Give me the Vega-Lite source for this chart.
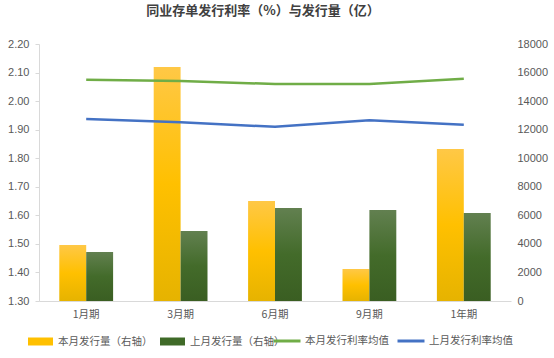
{
  "$schema": "https://vega.github.io/schema/vega-lite/v6.json",
  "width": 472,
  "height": 257,
  "autosize": {"type": "none"},
  "padding": {"left": 39, "top": 44, "right": 43, "bottom": 57},
  "background": "white",
  "config": {
    "view": {"stroke": null},
    "font": "Noto Sans CJK SC",
    "axis": {"grid": false, "labelColor": "#595959", "labelFontSize": 11, "labelFont": "Liberation Sans"},
    "legend": {"labelColor": "#595959", "labelFontSize": 10.5, "labelFont": "Noto Sans CJK SC"}
  },
  "title": {
    "text": "同业存单发行利率（%）与发行量（亿）",
    "fontSize": 13,
    "fontWeight": "bold",
    "color": "#404040",
    "anchor": "middle",
    "dx": -12,
    "offset": 20
  },
  "data": {
    "values": [
      {"period": "1月期", "kind": "bar", "series": "本月发行量（右轴）", "value": 3920},
      {"period": "3月期", "kind": "bar", "series": "本月发行量（右轴）", "value": 16390},
      {"period": "6月期", "kind": "bar", "series": "本月发行量（右轴）", "value": 7000},
      {"period": "9月期", "kind": "bar", "series": "本月发行量（右轴）", "value": 2240},
      {"period": "1年期", "kind": "bar", "series": "本月发行量（右轴）", "value": 10650},
      {"period": "1月期", "kind": "bar", "series": "上月发行量（右轴）", "value": 3430},
      {"period": "3月期", "kind": "bar", "series": "上月发行量（右轴）", "value": 4900},
      {"period": "6月期", "kind": "bar", "series": "上月发行量（右轴）", "value": 6510},
      {"period": "9月期", "kind": "bar", "series": "上月发行量（右轴）", "value": 6370},
      {"period": "1年期", "kind": "bar", "series": "上月发行量（右轴）", "value": 6160},
      {"period": "1月期", "kind": "line", "series": "本月发行利率均值", "value": 2.075},
      {"period": "3月期", "kind": "line", "series": "本月发行利率均值", "value": 2.070},
      {"period": "6月期", "kind": "line", "series": "本月发行利率均值", "value": 2.060},
      {"period": "9月期", "kind": "line", "series": "本月发行利率均值", "value": 2.060},
      {"period": "1年期", "kind": "line", "series": "本月发行利率均值", "value": 2.078},
      {"period": "1月期", "kind": "line", "series": "上月发行利率均值", "value": 1.937},
      {"period": "3月期", "kind": "line", "series": "上月发行利率均值", "value": 1.926},
      {"period": "6月期", "kind": "line", "series": "上月发行利率均值", "value": 1.910},
      {"period": "9月期", "kind": "line", "series": "上月发行利率均值", "value": 1.933},
      {"period": "1年期", "kind": "line", "series": "上月发行利率均值", "value": 1.917}
    ]
  },
  "encoding": {
    "x": {
      "field": "period",
      "type": "nominal",
      "sort": ["1月期", "3月期", "6月期", "9月期", "1年期"],
      "scale": {"paddingInner": 0.43, "paddingOuter": 0.215},
      "axis": {"title": null, "labelAngle": 0, "ticks": false, "domainColor": "#D9D9D9", "labelPadding": 8, "labelFont": "Noto Sans CJK SC", "labelFontSize": 10.5}
    }
  },
  "layer": [
    {
      "transform": [{"filter": "datum.kind === 'bar'"}],
      "encoding": {
        "y": {
          "field": "value",
          "type": "quantitative",
          "scale": {"domain": [0, 18000], "nice": false},
          "axis": {"title": null, "orient": "right", "values": [0, 2000, 4000, 6000, 8000, 10000, 12000, 14000, 16000, 18000], "format": "d", "domain": false, "ticks": false, "labelPadding": 6}
        },
        "xOffset": {
          "field": "series",
          "type": "nominal",
          "scale": {"domain": ["本月发行量（右轴）", "上月发行量（右轴）"], "paddingInner": 0, "paddingOuter": 0}
        }
      },
      "layer": [
        {
          "transform": [{"filter": "datum.series === '本月发行量（右轴）'"}],
          "mark": {"type": "bar", "fill": {"gradient": "linear", "x1": 0, "y1": 0, "x2": 0, "y2": 1, "stops": [{"offset": 0, "color": "#FFC846"}, {"offset": 0.5, "color": "#FFC000"}, {"offset": 1, "color": "#E6B300"}]}}
        },
        {
          "transform": [{"filter": "datum.series === '上月发行量（右轴）'"}],
          "mark": {"type": "bar", "fill": {"gradient": "linear", "x1": 0, "y1": 0, "x2": 0, "y2": 1, "stops": [{"offset": 0, "color": "#628050"}, {"offset": 0.5, "color": "#436B2A"}, {"offset": 1, "color": "#3A5E22"}]}}
        },
        {
          "mark": {"type": "bar", "opacity": 0},
          "encoding": {
            "fill": {
              "field": "series",
              "type": "nominal",
              "scale": {"domain": ["本月发行量（右轴）", "上月发行量（右轴）"], "range": ["#FFC000", "#3F6A28"]},
              "legend": {
                "title": null,
                "orient": "none",
                "direction": "horizontal",
                "legendX": -11,
                "legendY": 285,
                "symbolType": "M-1,-0.32H1V0.32H-1Z",
                "symbolSize": 625,
                "symbolStrokeWidth": 0,
                "symbolOpacity": 1,
                "labelOffset": 5,
                "columnPadding": 7
              }
            }
          }
        }
      ]
    },
    {
      "transform": [{"filter": "datum.kind === 'line'"}],
      "mark": {"type": "line", "strokeWidth": 2.5},
      "encoding": {
        "y": {
          "field": "value",
          "type": "quantitative",
          "scale": {"domain": [1.3, 2.2], "nice": false, "zero": false},
          "axis": {"title": null, "orient": "left", "values": [1.3, 1.4, 1.5, 1.6, 1.7, 1.8, 1.9, 2.0, 2.1, 2.2], "format": ".2f", "domainColor": "#D9D9D9", "tickColor": "#D9D9D9", "tickSize": 4, "labelPadding": 6}
        },
        "stroke": {
          "field": "series",
          "type": "nominal",
          "scale": {"domain": ["本月发行利率均值", "上月发行利率均值"], "range": ["#70AD47", "#4472C4"]},
          "legend": {
            "title": null,
            "orient": "none",
            "direction": "horizontal",
            "legendX": 233,
            "legendY": 282,
            "symbolType": "stroke",
            "symbolSize": 729,
            "symbolStrokeWidth": 3,
            "labelOffset": 3,
            "columnPadding": 2
          }
        }
      }
    }
  ],
  "resolve": {"scale": {"y": "independent", "fill": "independent", "stroke": "independent"}}
}
